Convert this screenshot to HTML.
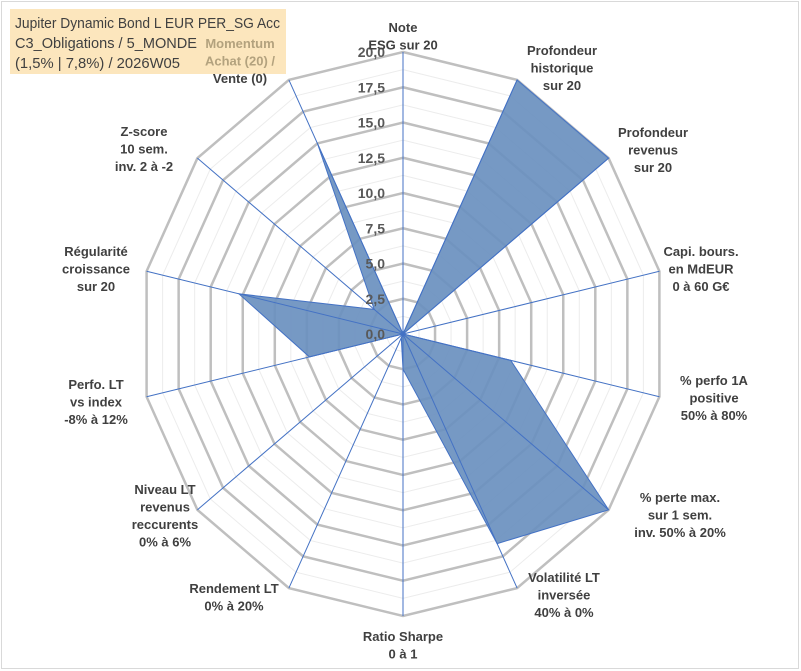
<!DOCTYPE html>
<html><head><meta charset="utf-8"><style>
body{margin:0;background:#fff;}
svg{display:block;font-family:"Liberation Sans",Arial,sans-serif;}
</style></head><body>
<svg id="chart" width="801" height="671" viewBox="0 0 801 671">
<rect x="1.5" y="1.5" width="797" height="667" fill="#fff" stroke="#d9d9d9"/>
<rect x="10" y="9" width="276" height="65" fill="#fce6bd"/>
<g font-family="Liberation Sans, sans-serif" font-size="15" fill="#404040">
<text x="15" y="28" textLength="265" lengthAdjust="spacingAndGlyphs">Jupiter Dynamic Bond L EUR PER_SG Acc</text>
<text x="15" y="48" textLength="182" lengthAdjust="spacingAndGlyphs">C3_Obligations / 5_MONDE</text>
<text x="15" y="68" textLength="165" lengthAdjust="spacingAndGlyphs">(1,5% | 7,8%) / 2026W05</text>
</g>
<g id="grid"></g><g id="series"></g><g id="axes"></g><g id="labels"></g>
</svg>
<script>
const categories=[["Note","ESG sur 20"],["Profondeur","historique","sur 20"],["Profondeur","revenus","sur 20"],["Capi. bours.","en MdEUR","0 à 60 G€"],["% perfo 1A","positive","50% à 80%"],["% perte max.","sur 1 sem.","inv. 50% à 20%"],["Volatilité LT","inversée","40% à 0%"],["Ratio Sharpe","0 à 1"],["Rendement LT","0% à 20%"],["Niveau LT","revenus","reccurents","0% à 6%"],["Perfo. LT","vs index","-8% à 12%"],["Régularité","croissance","sur 20"],["Z-score","10 sem.","inv. 2 à -2"],["Momentum","Achat (20) /","Vente (0)"]];
const values=[0,20,20,0,8.4,20,16.5,2.5,0.3,0,7.3,12.8,2.8,15];
const tickLabels=["0,0","2,5","5,0","7,5","10,0","12,5","15,0","17,5","20,0"];
const labelPos=[[403,32],[562,55],[653,137],[701,256],[714,385],[680,502],[564,582],[403,641],[234,593],[165,494],[96,389],[96,256],[144,136],[240,48]];
const NS="http://www.w3.org/2000/svg";
const cx=403,cy=334,RX=263,RY=282,MAX=20,N=categories.length;
function pt(i,v){const a=i*2*Math.PI/N;return [cx+v/MAX*RX*Math.sin(a),cy-v/MAX*RY*Math.cos(a)];}
function mk(tag,at,par){const e=document.createElementNS(NS,tag);for(const k in at)e.setAttribute(k,at[k]);par.appendChild(e);return e;}
const grid=document.getElementById('grid');
for(let s=1;s<=16;s++){const v=s*1.25;const major=s%2==0;
 const p=categories.map((c,i)=>pt(i,v).join(',')).join(' ');
 const el=mk('polygon',{points:p,fill:'none',stroke:major?'#bfbfbf':'#ececec','stroke-width':major?2.5:1},grid);
 
 }
const ser=document.getElementById('series');
const poly=mk('polygon',{points:values.map((v,i)=>pt(i,v).join(',')).join(' '),fill:'#6a90bf','fill-opacity':0.92,stroke:'#4472c4','stroke-width':1},ser);


const ax=document.getElementById('axes');
categories.forEach((c,i)=>{const [x,y]=pt(i,MAX);
 const l=mk('line',{x1:cx,y1:cy,x2:x,y2:y,stroke:'#4472c4','stroke-width':1},ax);
 
 });
const lab=document.getElementById('labels');
tickLabels.forEach((t,k)=>{const y=cy-k*2.5/MAX*RY;
 const e=mk('text',{x:385,y:y+5,'text-anchor':'end','font-size':14,'font-weight':'bold',fill:'#595959'},lab);
 e.textContent=t;
 
 });
categories.forEach((c,i)=>{const [x,y0]=labelPos[i];
 const g=mk('text',{x:x,y:y0,'text-anchor':'middle','font-size':13,'font-weight':'bold',fill:'#404040'},lab);
 
 
 c.forEach((line,j)=>{const ts=mk('tspan',{x:x,dy:j?17.5:0},g);ts.textContent=line;
  if(i==13&&j<2)ts.setAttribute('fill','#b3a27e');});});
</script>
</body></html>
